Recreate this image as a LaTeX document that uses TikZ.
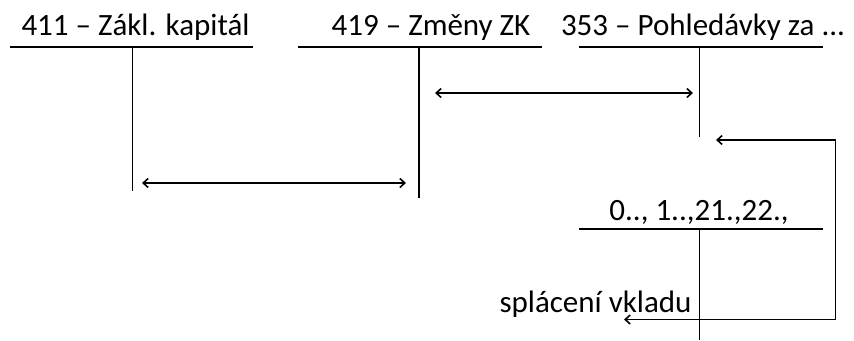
\documentclass[tikz,border=0pt]{standalone}
\usepackage{fontspec}
\setmainfont{Carlito}
\usetikzlibrary{arrows.meta}

\begin{document}
\begin{tikzpicture}[x=1pt, y=-1pt,
    every node/.style={font=\fontsize{31}{37}\selectfont, inner sep=0pt},
    title/.style={anchor=base},
    acct/.style={line width=1.6pt},
    arr/.style={{Straight Barb[length=5pt,width=9pt]}-{Straight Barb[length=5pt,width=9pt]}, line width=1.6pt}
]
\useasboundingbox (0,0) rectangle (854,340);

% accounts
\node[title] (zk)   at (135.5,35) {411 – Zákl. kapitál};
\node[title] (zmzk) at (431,35)   {419 – Změny ZK};
\node[title] (pohl) at (703,35)   {353 – Pohledávky za ...};
\node[title] (maj)  at (699,220)  {0.., 1..,21.,22.,};
\node[title] (spl)  at (595.5,312) {splácení vkladu};

\draw[acct] (10,47) -- (253,47) (132.5,47) -- (132.5,191);
\draw[acct] (298,47) -- (542,47) (419,47) -- (419,198);
\draw[acct] (579,47) -- (823,47) (699.5,47) -- (699.5,137);
\draw[acct] (579,229) -- (823,229) (699.5,229) -- (699.5,340);

% arrows
\coordinate (zkR)   at (142,183);
\coordinate (zmzkL) at (406,183);
\coordinate (zmzkR) at (435,93);
\coordinate (pohlL) at (693,93);
\coordinate (pohlB) at (716,140);
\coordinate (turn)  at (835.5,140);
\coordinate (splE)  at (624,319.5);

\draw[arr] (zkR) -- (zmzkL);
\draw[arr] (zmzkR) -- (pohlL);
\draw[arr] (pohlB) -- (turn) |- (splE);
\end{tikzpicture}
\end{document}
